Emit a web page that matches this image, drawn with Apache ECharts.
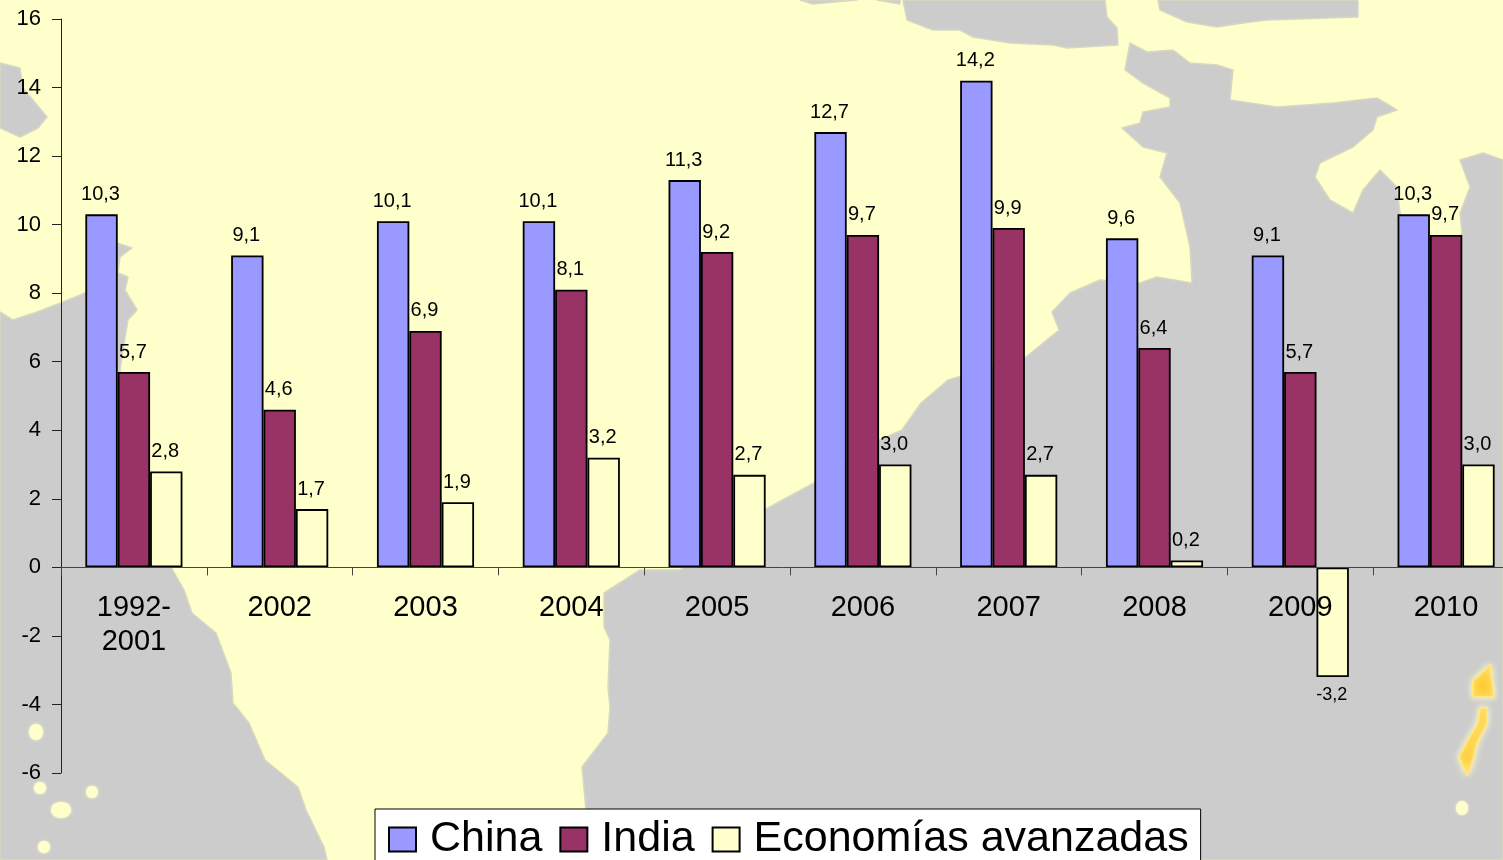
<!DOCTYPE html>
<html>
<head>
<meta charset="utf-8">
<style>html,body{margin:0;padding:0;overflow:hidden;background:#FFFFCC}#c{width:1503px;height:860px}</style>
<script src="https://cdn.jsdelivr.net/npm/echarts@6/dist/echarts.min.js"></script>
</head>
<body>
<div id="c"></div>
<script>
const categories = ['1992-\n2001','2002','2003','2004','2005','2006','2007','2008','2009','2010'];
const china = [10.3,9.1,10.1,10.1,11.3,12.7,14.2,9.6,9.1,10.3];
const india = [5.7,4.6,6.9,8.1,9.2,9.7,9.9,6.4,5.7,9.7];
const avanzadas = [2.8,1.7,1.9,3.2,2.7,3.0,2.7,0.2,-3.2,3.0];
const yTicks = {min:-6,max:16,interval:2};

// Decorative background map outlines (pixel space, not data)
const mapGray = [
 [[0,312],[13,320],[37,312],[63,302],[85,293],[117,243],[132,248],[120,257],[118,273],[128,277],[125,290],[137,310],[128,320],[123,350],[120,370],[171,567],[184,590],[192,613],[216,633],[231,673],[233,703],[249,723],[265,760],[298,787],[306,810],[324,847],[327,860],[0,860]],
 [[585,860],[586,810],[582,767],[608,733],[610,707],[608,687],[610,640],[604,627],[604,593],[640,570],[680,570],[764,510],[814,483],[879,440],[902,430],[921,403],[948,380],[1026,357],[1059,330],[1052,312],[1070,293],[1100,280],[1140,283],[1157,277],[1192,283],[1190,247],[1180,203],[1160,177],[1167,153],[1143,147],[1122,128],[1140,123],[1143,112],[1170,107],[1170,98],[1143,83],[1125,70],[1130,43],[1147,52],[1173,50],[1190,63],[1217,65],[1233,70],[1230,100],[1277,107],[1333,103],[1377,98],[1397,110],[1377,117],[1373,130],[1353,147],[1320,163],[1315,177],[1330,200],[1353,213],[1363,190],[1380,170],[1397,187],[1400,213],[1430,300],[1462,233],[1460,213],[1470,187],[1460,160],[1483,153],[1503,160],[1503,860]],
 [[0,63],[20,68],[23,88],[47,117],[38,128],[20,137],[0,128]],
 [[903,0],[907,20],[933,30],[960,30],[973,37],[1010,43],[1053,45],[1067,48],[1118,45],[1117,28],[1107,17],[1105,0]],
 [[1158,0],[1160,10],[1187,22],[1217,27],[1243,23],[1267,20],[1358,17],[1358,0]],
 [[800,0],[813,4],[857,0]],
 [[877,0],[900,4],[900,0]]
];
const mapOrange = [
 [[1490,665],[1494,697],[1473,697],[1473,681]],
 [[1480,708],[1487,708],[1487,723],[1477,743],[1472,763],[1467,775],[1459,757],[1468,740],[1478,723]]
];
const islands = [[36,732,7,8],[40,788,6,6],[92,792,6,6],[61,810,10,8],[44,847,6,6],[1462,808,6,7]];

const graphics = [];
mapGray.forEach(p => graphics.push({type:'polygon',silent:true,z:0,shape:{points:p},style:{fill:'#CCCCCC',stroke:'#D8D8C0',lineWidth:1.5,lineJoin:'round'}}));
mapOrange.forEach(p => graphics.push({type:'polygon',silent:true,z:0,shape:{points:p},style:{fill:'#FFCC33',stroke:'#FFE680',lineWidth:2,lineJoin:'round',shadowColor:'#FFFFCC',shadowBlur:7}}));
islands.forEach(c => graphics.push({type:'ellipse',silent:true,z:0,shape:{cx:c[0],cy:c[1],rx:c[2],ry:c[3]},style:{fill:'#FFFFCC',shadowColor:'#FFFFCC',shadowBlur:3}}));

const font = '"Liberation Sans", Arial, sans-serif';
const fmt = p => p.value.toFixed(1).replace('.',',');
function barSeries(name,data,color){
  return {
    name, type:'bar', barGap:0, barCategoryGap:'33.4%',
    data:data.map(v => v < 0 ? {value:v,label:{distance:9,fontSize:18}} : v),
    itemStyle:{color,borderColor:'#000',borderWidth:1.8},
    label:{show:true,position:'outside',distance:10,offset:[-1,0],color:'#000',fontFamily:font,fontSize:20,formatter:fmt}
  };
}
const chart = echarts.init(document.getElementById('c'),null,{renderer:'canvas',width:1503,height:860});
chart.setOption({
  animation:false,
  backgroundColor:'#FFFFCC',
  graphic:graphics,
  grid:{left:61,top:19,width:1458,height:754,containLabel:false,outerBoundsMode:'none'},
  legend:{
    show:true,left:375,top:809,orient:'horizontal',
    data:['China','India','Economías avanzadas'],
    icon:'rect',itemWidth:27,itemHeight:24,itemGap:17,
    backgroundColor:'#fff',borderColor:'#000',borderWidth:1,borderRadius:0,
    padding:[9,12,10,13],
    textStyle:{color:'#000',fontFamily:font,fontSize:43,padding:[0,0,0,9]}
  },
  xAxis:{
    type:'category',data:categories,z:3,
    axisLine:{onZero:true,lineStyle:{color:'#444',width:1}},
    axisTick:{show:true,length:8,alignWithLabel:false,lineStyle:{color:'#444'}},
    axisLabel:{interval:0,margin:-182,color:'#000',fontFamily:font,fontSize:29,lineHeight:34,hideOverlap:false},
    splitLine:{show:false}
  },
  yAxis:{
    type:'value',min:yTicks.min,max:yTicks.max,interval:yTicks.interval,
    axisLine:{show:true,lineStyle:{color:'#222',width:1}},
    axisTick:{show:true,length:9,lineStyle:{color:'#222'}},
    axisLabel:{margin:20,padding:[2,0,0,0],color:'#000',fontFamily:font,fontSize:22},
    splitLine:{show:false}
  },
  series:[
    barSeries('China',china,'#9999FF'),
    barSeries('India',india,'#993366'),
    barSeries('Economías avanzadas',avanzadas,'#FFFFCC')
  ]
});
</script>
</body>
</html>
